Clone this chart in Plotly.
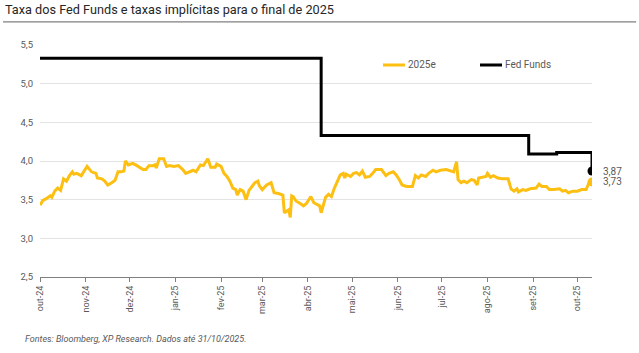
import plotly.graph_objects as go

# ---- data ----
title_text = "Taxa dos Fed Funds e taxas implícitas para o final de 2025"
source_text = "Fontes: Bloomberg, XP Research. Dados até 31/10/2025."

dates_2025e = [
    "2024-10-01", "2024-10-03", "2024-10-05", "2024-10-08", "2024-10-09", "2024-10-11", "2024-10-13", "2024-10-15",
    "2024-10-17", "2024-10-19", "2024-10-21", "2024-10-23", "2024-10-24", "2024-10-26", "2024-10-29",
    "2024-11-02", "2024-11-05", "2024-11-08", "2024-11-09", "2024-11-12", "2024-11-14", "2024-11-16", "2024-11-18",
    "2024-11-21", "2024-11-23", "2024-11-25", "2024-11-27", "2024-11-28", "2024-11-30",
    "2024-12-03", "2024-12-05", "2024-12-09", "2024-12-10", "2024-12-12", "2024-12-14", "2024-12-17", "2024-12-18",
    "2024-12-19", "2024-12-21", "2024-12-24", "2024-12-26", "2024-12-28", "2024-12-31",
    "2025-01-03", "2025-01-06", "2025-01-08", "2025-01-10", "2025-01-13", "2025-01-15", "2025-01-18", "2025-01-20",
    "2025-01-23", "2025-01-25", "2025-01-28", "2025-01-29",
    "2025-02-01", "2025-02-03", "2025-02-05", "2025-02-07", "2025-02-09", "2025-02-11", "2025-02-12", "2025-02-14",
    "2025-02-16", "2025-02-18", "2025-02-20", "2025-02-22", "2025-02-24", "2025-02-26", "2025-02-27",
    "2025-03-01", "2025-03-04", "2025-03-07", "2025-03-09", "2025-03-12", "2025-03-15", "2025-03-16", "2025-03-19",
    "2025-03-20", "2025-03-21", "2025-03-22", "2025-03-24", "2025-03-26", "2025-03-29", "2025-03-31",
    "2025-04-03", "2025-04-05", "2025-04-09", "2025-04-10", "2025-04-13", "2025-04-15", "2025-04-17", "2025-04-19",
    "2025-04-21", "2025-04-23", "2025-04-25", "2025-04-26", "2025-04-27", "2025-04-30",
    "2025-05-02", "2025-05-04", "2025-05-06", "2025-05-08", "2025-05-10", "2025-05-13", "2025-05-15", "2025-05-17",
    "2025-05-19", "2025-05-21", "2025-05-24", "2025-05-26", "2025-05-29", "2025-05-31",
    "2025-06-02", "2025-06-04", "2025-06-07", "2025-06-09", "2025-06-11", "2025-06-13", "2025-06-15", "2025-06-17",
    "2025-06-20", "2025-06-22", "2025-06-25", "2025-06-27", "2025-06-30",
    "2025-07-04", "2025-07-07", "2025-07-09", "2025-07-11", "2025-07-12", "2025-07-14", "2025-07-16", "2025-07-18",
    "2025-07-21", "2025-07-23", "2025-07-25", "2025-07-26", "2025-07-29", "2025-07-31",
    "2025-08-01", "2025-08-03", "2025-08-05", "2025-08-08", "2025-08-11", "2025-08-15", "2025-08-17", "2025-08-19",
    "2025-08-21", "2025-08-22", "2025-08-25", "2025-08-27", "2025-08-30",
    "2025-09-03", "2025-09-05", "2025-09-07", "2025-09-10", "2025-09-12", "2025-09-15", "2025-09-19", "2025-09-21",
    "2025-09-23", "2025-09-25", "2025-09-28",
    "2025-10-01", "2025-10-04", "2025-10-07", "2025-10-09", "2025-10-11",
]
values_2025e = [
    3.43, 3.49, 3.51, 3.55, 3.53, 3.61, 3.65, 3.62, 3.77, 3.74, 3.81, 3.86, 3.83, 3.84, 3.81,
    3.93, 3.86, 3.84, 3.78, 3.77, 3.74, 3.69, 3.71, 3.75, 3.86, 3.86, 3.87, 4.00, 3.95,
    3.97, 3.95, 3.91, 3.89, 3.89, 3.94, 3.94, 3.95, 3.91, 4.03, 4.03, 3.93, 3.94, 3.93,
    3.94, 3.89, 3.84, 3.86, 3.88, 3.86, 3.95, 3.94, 4.03, 3.92, 3.92, 3.96,
    3.93, 3.84, 3.80, 3.74, 3.65, 3.63, 3.56, 3.63, 3.61, 3.50, 3.62, 3.67, 3.72, 3.74, 3.68,
    3.63, 3.69, 3.72, 3.59, 3.58, 3.56, 3.33, 3.37, 3.27, 3.55, 3.54, 3.48, 3.46, 3.42, 3.45,
    3.54, 3.46, 3.42, 3.33, 3.53, 3.57, 3.54, 3.65, 3.74, 3.82, 3.84, 3.78, 3.83, 3.80,
    3.84, 3.85, 3.82, 3.87, 3.79, 3.80, 3.84, 3.89, 3.89, 3.89, 3.81, 3.84, 3.86, 3.82,
    3.76, 3.69, 3.67, 3.67, 3.67, 3.81, 3.78, 3.82, 3.80, 3.84, 3.88, 3.86, 3.88,
    3.89, 3.87, 3.86, 3.99, 3.76, 3.72, 3.74, 3.72, 3.76, 3.75, 3.69, 3.78, 3.79, 3.80,
    3.84, 3.79, 3.81, 3.78, 3.77, 3.77, 3.64, 3.61, 3.64, 3.60, 3.63, 3.62, 3.64,
    3.65, 3.70, 3.67, 3.67, 3.63, 3.63, 3.64, 3.61, 3.62, 3.59, 3.61,
    3.61, 3.63, 3.63, 3.72, 3.73,
]

dates_fed = ["2024-10-01", "2025-04-10", "2025-08-29", "2025-09-17", "2025-10-09", "2025-10-11"]
values_fed = [5.33, 4.33, 4.09, 4.11, 4.11, 3.87]

series_names = ["2025e", "Fed Funds"]

y_ticks = [2.5, 3.0, 3.5, 4.0, 4.5, 5.0, 5.5]
month_ticks = ["2024-10-01", "2024-11-01", "2024-12-01", "2025-01-01", "2025-02-01", "2025-03-01",
               "2025-04-01", "2025-05-01", "2025-06-01", "2025-07-01", "2025-08-01", "2025-09-01", "2025-10-01"]
month_labels = ["out-24", "nov-24", "dez-24", "jan-25", "fev-25", "mar-25", "abr-25",
                "mai-25", "jun-25", "jul-25", "ago-25", "set-25", "out-25"]

# ---- style ----
YELLOW = "#FCBF12"
BLACK = "#000000"
GRAY = "#595959"
FONT = "Roboto"
colors = [YELLOW, BLACK]

fig = go.Figure()
fig.add_trace(go.Scatter(x=dates_2025e, y=values_2025e, mode="lines", name=series_names[0],
                         showlegend=False, line=dict(color=YELLOW, width=3)))
fig.add_trace(go.Scatter(x=dates_fed, y=values_fed, mode="lines", name=series_names[1],
                         showlegend=False, line=dict(color=BLACK, width=3, shape="hv")))
# end markers
fig.add_trace(go.Scatter(x=[dates_fed[-1]], y=[values_fed[-1]], mode="markers", showlegend=False,
                         marker=dict(color=BLACK, size=9)))
fig.add_trace(go.Scatter(x=[dates_2025e[-1]], y=[values_2025e[-1]], mode="markers", showlegend=False,
                         marker=dict(color=YELLOW, size=9)))

def fmt(v):
    return f"{v:.2f}".replace(".", ",")

annotations = [
    dict(x=dates_fed[-1], y=values_fed[-1], xref="x", yref="y", text=fmt(values_fed[-1]),
         showarrow=False, xanchor="left", yanchor="middle", xshift=9,
         font=dict(family=FONT, size=10, color=GRAY)),
    dict(x=dates_2025e[-1], y=values_2025e[-1], xref="x", yref="y", text=fmt(values_2025e[-1]),
         showarrow=False, xanchor="left", yanchor="middle", xshift=9,
         font=dict(family=FONT, size=10, color=GRAY)),
    dict(x=-0.067, y=1.152, xref="paper", yref="paper", text=title_text, showarrow=False,
         xanchor="left", yanchor="middle", font=dict(family=FONT, size=12.7, color="#262626")),
    dict(x=-0.031, y=-0.267, xref="paper", yref="paper", text="<i>" + source_text + "</i>",
         showarrow=False, xanchor="left", yanchor="middle",
         font=dict(family=FONT, size=9, color=GRAY)),
]

shapes = [
    dict(type="line", xref="paper", yref="paper", x0=-0.067, x1=1.08, y0=1.1, y1=1.1,
         line=dict(color="#808080", width=1.2)),
]

# custom legend (line swatch + label)
legend_line_x = [(0.6214, 0.6612), (0.7971, 0.8370)]
legend_y = 0.9138
for name, col, (lx0, lx1) in zip(series_names, colors, legend_line_x):
    shapes.append(dict(type="line", xref="paper", yref="paper", x0=lx0, x1=lx1,
                       y0=legend_y, y1=legend_y, line=dict(color=col, width=3)))
    annotations.append(dict(x=lx1 + 0.002, y=legend_y, xref="paper", yref="paper", text=name,
                            showarrow=False, xanchor="left", yanchor="middle",
                            font=dict(family=FONT, size=10, color=GRAY)))

fig.update_layout(
    width=639, height=353,
    margin=dict(l=40, r=47, t=45, b=76),
    paper_bgcolor="white", plot_bgcolor="white",
    separators=",.",
    font=dict(family=FONT, size=10, color=GRAY),
    showlegend=False,
    annotations=annotations,
    shapes=shapes,
    xaxis=dict(type="date", range=["2024-10-01", "2025-10-11"],
               tickmode="array", tickvals=month_ticks, ticktext=month_labels,
               tickangle=-90, tickfont=dict(family=FONT, size=9, color=GRAY),
               ticks="outside", ticklen=4, tickcolor="#7f7f7f",
               showgrid=False, showline=True, linecolor="#7f7f7f", linewidth=1,
               zeroline=False),
    yaxis=dict(range=[2.5, 5.5], tickmode="array", tickvals=y_ticks, tickformat=".1f",
               tickfont=dict(family=FONT, size=9.5, color=GRAY),
               showgrid=True, gridcolor="#E3E3E3", gridwidth=1,
               showline=False, zeroline=False, ticks="", ticklabelstandoff=6),
)

fig.write_html("out.html")
